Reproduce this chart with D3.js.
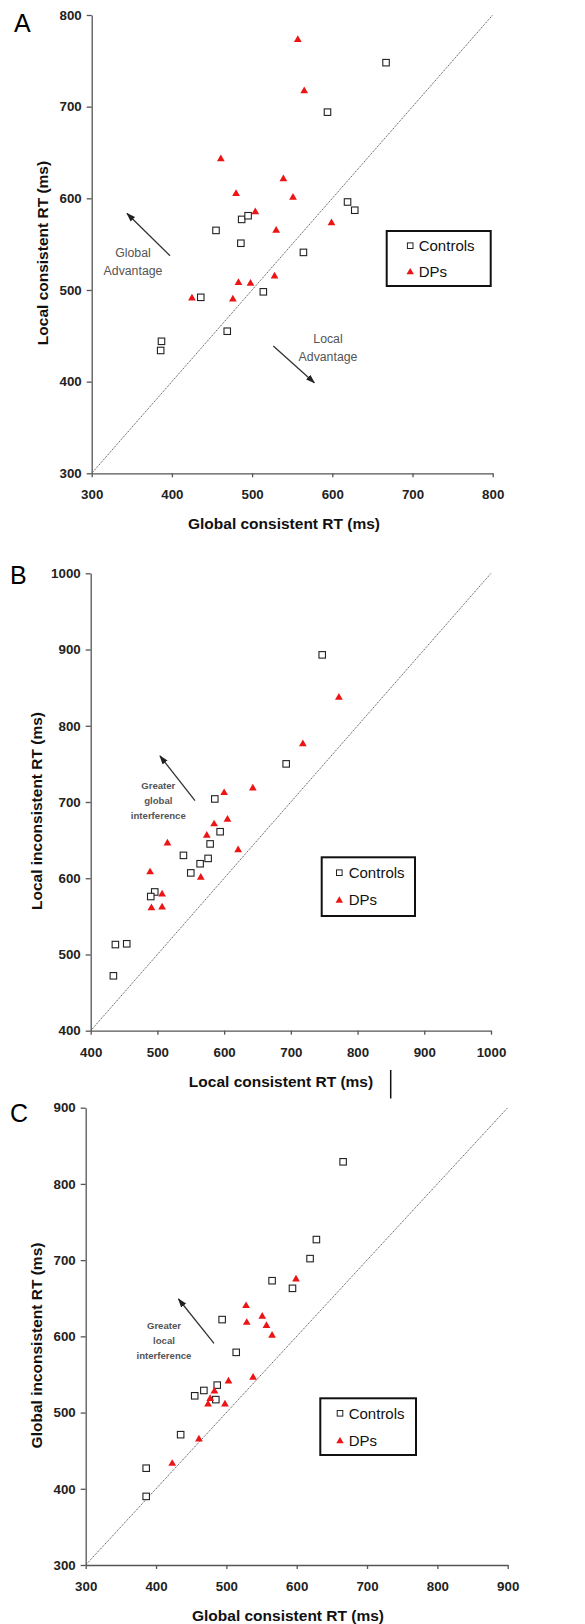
<!DOCTYPE html>
<html>
<head>
<meta charset="utf-8">
<script src="https://cdn.jsdelivr.net/npm/d3@7"></script>
<style>
  body { margin: 0; background: #fff; }
  svg { display: block; }
  text { font-family: "Liberation Sans", Arial, sans-serif; }
</style>
</head>
<body>
<svg id="fig" width="585" height="1624"></svg>
<script>
// values: [x, y] in ms, one row per participant

// A: global consistent (x) vs local consistent (y)
const aControls = [[667,748],[594,694],[619,596],[628,587],[455,565],[487,577],[495,581],
    [486,551],[564,541],[514,498],[436,492],[469,455],[387,444],[386,434]];
const aDPs = [[557,773],[565,717],[461,643],[539,621],[480,605],[551,601],[504,585],
    [530,565],[599,573],[528,515],[483,508],[498,507],[425,491],[476,490]];
const aTicks = [300, 400, 500, 600, 700, 800];

// B: local consistent (x) vs local inconsistent (y)
const bControls = [[747,893],[693,750],[586,704],[594,661],[579,645],[539,630],[576,626],
    [564,619],[550,607],[496,582],[490,576],[437,513],[454,514],[434,472]];
const bDPs = [[772,837],[718,776],[643,718],[600,712],[605,677],[585,671],[574,656],
    [515,646],[621,637],[489,608],[565,601],[507,579],[491,561],[507,562]];
const bTicks = [400, 500, 600, 700, 800, 900, 1000];

// C: global consistent (x) vs global inconsistent (y)
const cControls = [[666,829],[628,727],[619,702],[565,673],[594,663],[494,622],[514,579],
    [487,536],[468,529],[455,522],[485,517],[435,471],[386,427],[386,390]];
const cDPs = [[599,675],[528,640],[551,626],[529,618],[557,614],[565,601],[538,546],
    [503,541],[483,528],[477,518],[474,511],[498,511],[461,465],[423,433]];
const cTicks = [300, 400, 500, 600, 700, 800, 900];

const seriesNames = ["Controls", "DPs"];
const RED = "#ec1515";

const svg = d3.select("#fig");

svg.append("defs").append("marker")
    .attr("id", "arrowhead")
    .attr("viewBox", "0 0 10 10")
    .attr("refX", 9).attr("refY", 5)
    .attr("markerWidth", 7).attr("markerHeight", 7)
    .attr("orient", "auto")
    .append("path")
    .attr("d", "M0,1.5 L10,5 L0,8.5 Z")
    .attr("fill", "#222");

function drawPanel(p) {
    const g = svg.append("g");
    const lo = p.ticks[0], hi = p.ticks[p.ticks.length - 1];
    const x = d3.scaleLinear().domain([lo, hi]).range(p.xr);
    const y = d3.scaleLinear().domain([lo, hi]).range(p.yr);

    // panel letter
    g.append("text")
        .attr("x", p.letterPos[0]).attr("y", p.letterPos[1])
        .attr("font-size", 25)
        .text(p.letter);

    // identity line
    g.append("line")
        .attr("x1", x(lo)).attr("y1", y(lo))
        .attr("x2", x(hi)).attr("y2", y(hi))
        .attr("stroke", "#555")
        .attr("stroke-width", 1)
        .attr("stroke-dasharray", "1.2,1");

    // axes
    const fmt = d3.format("d");
    const xAxis = g.append("g")
        .attr("transform", "translate(0," + p.yr[0] + ")")
        .call(d3.axisBottom(x).tickValues(p.ticks).tickFormat(fmt)
            .tickSize(4).tickSizeOuter(0).tickPadding(12.5));
    const yAxis = g.append("g")
        .attr("transform", "translate(" + p.xr[0] + ",0)")
        .call(d3.axisLeft(y).tickValues(p.ticks).tickFormat(fmt)
            .tickSize(5).tickSizeOuter(0).tickPadding(5));
    [xAxis, yAxis].forEach(function (a) {
        a.select(".domain").attr("stroke", "#555").attr("stroke-width", 1.3);
        a.selectAll(".tick line").attr("stroke", "#555").attr("stroke-width", 1.3);
        a.selectAll(".tick text")
            .attr("font-family", "Liberation Sans, Arial, sans-serif")
            .attr("font-size", 13.3)
            .attr("font-weight", "bold")
            .attr("fill", "#222");
    });

    // axis titles
    g.append("text")
        .attr("x", p.xTitlePos[0]).attr("y", p.xTitlePos[1])
        .attr("text-anchor", "middle")
        .attr("font-size", 15.5).attr("font-weight", "bold").attr("fill", "#111")
        .text(p.xTitle);
    g.append("text")
        .attr("transform", "translate(" + p.yTitlePos[0] + "," + p.yTitlePos[1] + ") rotate(-90)")
        .attr("text-anchor", "middle")
        .attr("font-size", 15.5).attr("font-weight", "bold").attr("fill", "#111")
        .text(p.yTitle);

    // points
    const sq = 6.5;
    g.selectAll(".ctrl")
        .data(p.controls)
        .enter()
        .append("rect")
        .attr("class", "ctrl")
        .attr("x", function (d) { return x(d[0]) - sq / 2; })
        .attr("y", function (d) { return y(d[1]) - sq / 2; })
        .attr("width", sq).attr("height", sq)
        .attr("fill", "#fff")
        .attr("stroke", "#222")
        .attr("stroke-width", 1.1);

    const tri = d3.symbol().type(d3.symbolTriangle).size(26);
    g.selectAll(".dp")
        .data(p.dps)
        .enter()
        .append("path")
        .attr("class", "dp")
        .attr("d", tri)
        .attr("transform", function (d) { return "translate(" + x(d[0]) + "," + y(d[1]) + ")"; })
        .attr("fill", RED);

    // annotation
    const ann = p.note;
    ann.lines.forEach(function (t, i) {
        g.append("text")
            .attr("x", ann.textPos[0]).attr("y", ann.textPos[1] + i * ann.lineH)
            .attr("text-anchor", "middle")
            .attr("font-size", ann.size)
            .attr("font-weight", ann.weight)
            .attr("fill", ann.color)
            .text(t);
    });
    g.append("line")
        .attr("x1", ann.arrow[0]).attr("y1", ann.arrow[1])
        .attr("x2", ann.arrow[2]).attr("y2", ann.arrow[3])
        .attr("stroke", "#333")
        .attr("stroke-width", 1.3)
        .attr("marker-end", "url(#arrowhead)");
    if (ann.second) {
        const s = ann.second;
        s.lines.forEach(function (t, i) {
            g.append("text")
                .attr("x", s.textPos[0]).attr("y", s.textPos[1] + i * ann.lineH)
                .attr("text-anchor", "middle")
                .attr("font-size", ann.size)
                .attr("fill", ann.color)
                .text(t);
        });
        g.append("line")
            .attr("x1", s.arrow[0]).attr("y1", s.arrow[1])
            .attr("x2", s.arrow[2]).attr("y2", s.arrow[3])
            .attr("stroke", "#333")
            .attr("stroke-width", 1.3)
            .attr("marker-end", "url(#arrowhead)");
    }

    // legend
    const L = p.legend;
    const lg = g.append("g").attr("transform", "translate(" + L.x + "," + L.y + ")");
    lg.append("rect")
        .attr("width", L.w).attr("height", L.h)
        .attr("fill", "#fff")
        .attr("stroke", "#111")
        .attr("stroke-width", 2);
    seriesNames.forEach(function (name, i) {
        const cy = L.rows[i];
        if (i == 0) {
            lg.append("rect")
                .attr("x", L.mx - 2.8).attr("y", cy - 2.8)
                .attr("width", 5.6).attr("height", 5.6)
                .attr("fill", "#fff").attr("stroke", "#222").attr("stroke-width", 1);
        } else {
            lg.append("path")
                .attr("d", d3.symbol().type(d3.symbolTriangle).size(24))
                .attr("transform", "translate(" + L.mx + "," + (cy + 0.5) + ")")
                .attr("fill", RED);
        }
        lg.append("text")
            .attr("x", L.tx).attr("y", cy)
            .attr("dy", "0.35em")
            .attr("font-size", 15)
            .attr("fill", "#111")
            .text(name);
    });
}

drawPanel({
    letter: "A", letterPos: [14, 32],
    ticks: aTicks, controls: aControls, dps: aDPs,
    xr: [91.7, 492.7], yr: [473.3, 15],
    xTitle: "Global  consistent RT (ms)", xTitlePos: [284, 528.5],
    yTitle: "Local consistent RT (ms)", yTitlePos: [48, 253],
    note: {
        lines: ["Global", "Advantage"], textPos: [133, 256.5], lineH: 18.5,
        size: 12.3, weight: "normal", color: "#555",
        arrow: [170, 255.7, 127, 213.5],
        second: { lines: ["Local", "Advantage"], textPos: [328, 342.5], arrow: [273.3, 346, 314.3, 382.7] }
    },
    legend: { x: 386.7, y: 231, w: 104, h: 55, rows: [14.7, 40.7], mx: 23.5, tx: 32 }
});

drawPanel({
    letter: "B", letterPos: [10, 583.5],
    ticks: bTicks, controls: bControls, dps: bDPs,
    xr: [90.7, 491], yr: [1030.7, 573.3],
    xTitle: "Local consistent RT (ms)", xTitlePos: [281, 1086.5],
    yTitle: "Local inconsistent RT (ms)", yTitlePos: [42, 811],
    note: {
        lines: ["Greater", "global", "interference"], textPos: [158.3, 788.5], lineH: 15.2,
        size: 9.6, weight: "bold", color: "#555",
        arrow: [195, 800.7, 160, 756]
    },
    legend: { x: 321.7, y: 857.3, w: 93.3, h: 58.7, rows: [15.4, 42.7], mx: 17.6, tx: 27 }
});

drawPanel({
    letter: "C", letterPos: [10, 1121.7],
    ticks: cTicks, controls: cControls, dps: cDPs,
    xr: [85.7, 507.7], yr: [1565, 1107.7],
    xTitle: "Global  consistent RT (ms)", xTitlePos: [288, 1620.5],
    yTitle: "Global inconsistent RT (ms)", yTitlePos: [42, 1345.5],
    note: {
        lines: ["Greater", "local", "interference"], textPos: [164, 1328.5], lineH: 15.3,
        size: 9.6, weight: "bold", color: "#555",
        arrow: [214, 1343.3, 178.5, 1299]
    },
    legend: { x: 320.3, y: 1398.3, w: 95.7, h: 56.7, rows: [15, 42.4], mx: 19.7, tx: 28.4 }
});

// stray vertical rule seen beside the B axis title
svg.append("line")
    .attr("x1", 390.7).attr("y1", 1070)
    .attr("x2", 390.7).attr("y2", 1098.5)
    .attr("stroke", "#111")
    .attr("stroke-width", 1.5);
</script>
</body>
</html>
